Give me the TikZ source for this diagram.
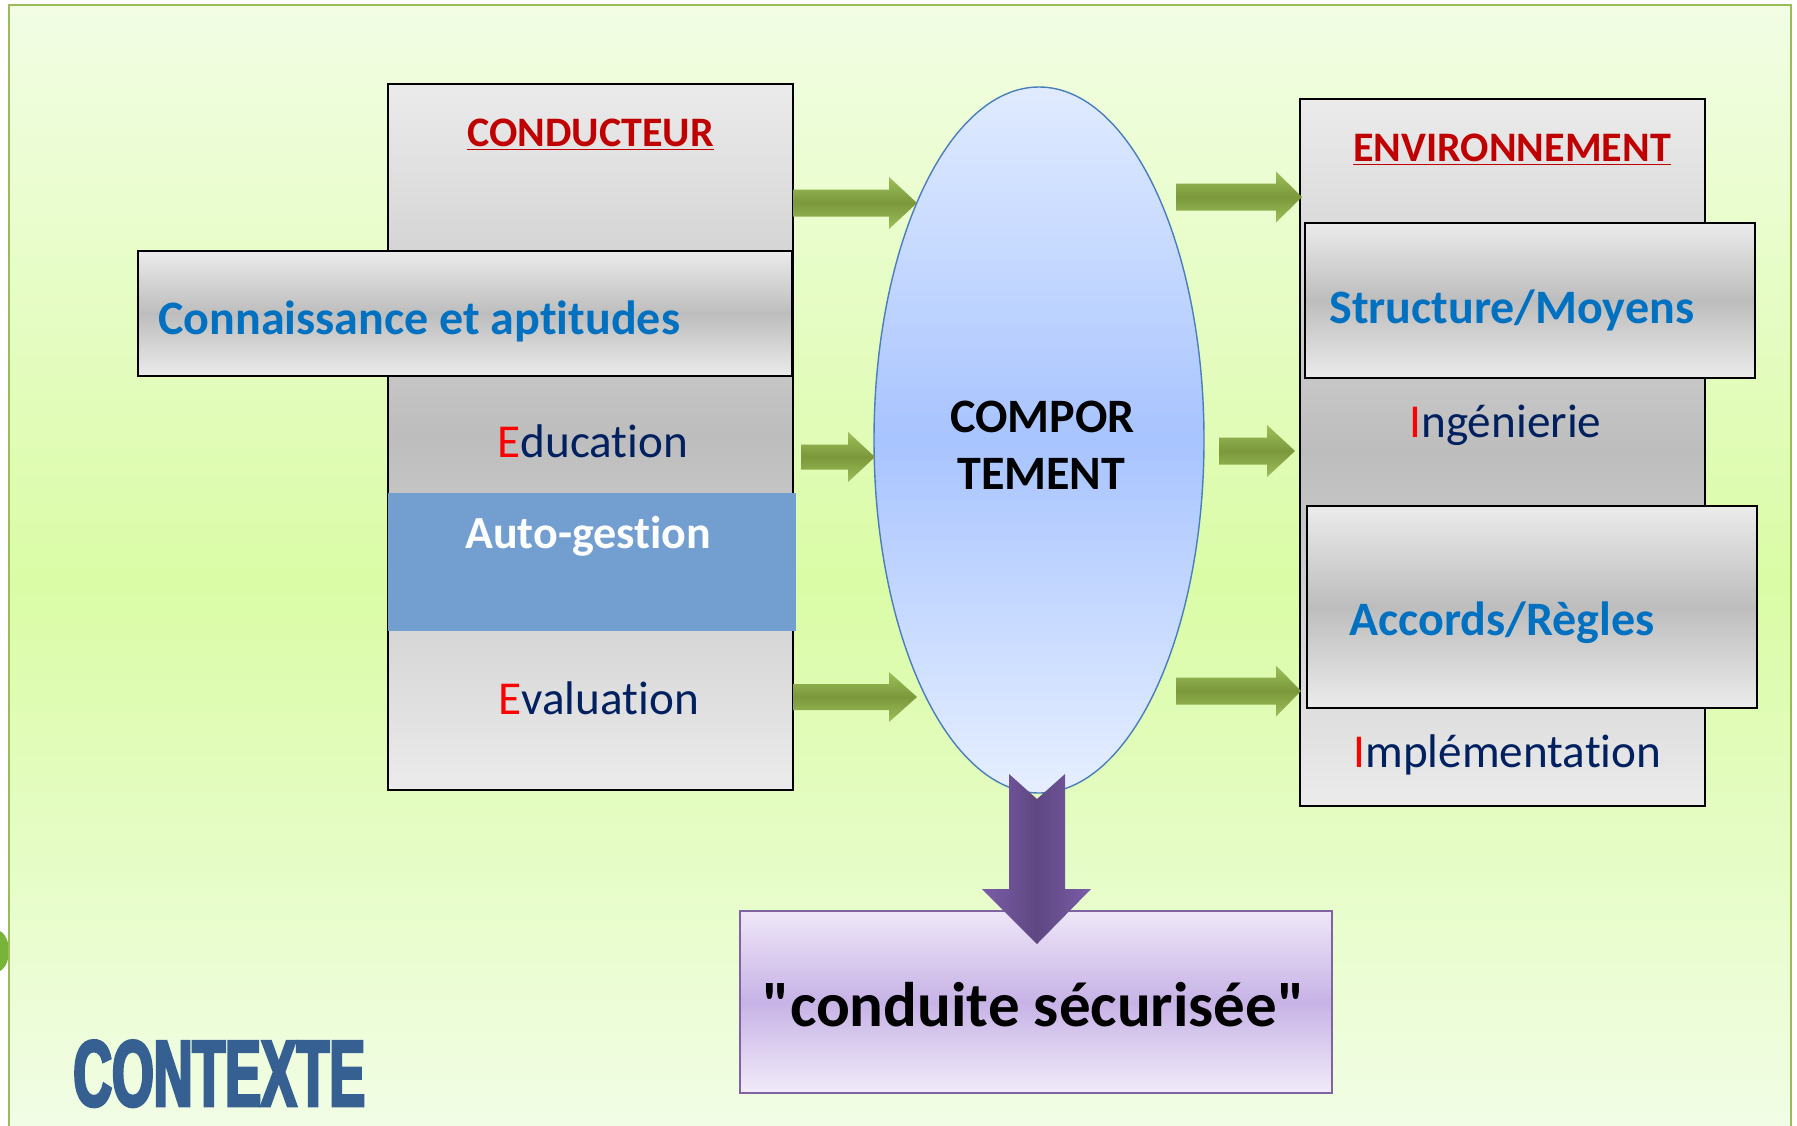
\documentclass[tikz,border=0pt]{standalone}
\usepackage{fontspec}
\usepackage{graphicx}
\setmainfont{Carlito}[Ligatures={TeXOff,NoCommon}]
\newfontfamily\ctxfont[FakeStretch=0.57,FakeBold=3]{Liberation Sans}
\usetikzlibrary{fit,shapes.geometric}
\definecolor{bgtop}{HTML}{F2FDE4}
\definecolor{bgmid}{HTML}{DAFCA6}
\definecolor{bgbot}{HTML}{F3FDE9}
\definecolor{framec}{HTML}{9BBB59}
\definecolor{boxlight}{HTML}{EBEBEB}
\definecolor{boxdark}{HTML}{BDBDBD}
\definecolor{autoblue}{HTML}{739FD0}
\definecolor{elltop}{HTML}{E0EBFF}
\definecolor{ellmid}{HTML}{A8C4FF}
\definecolor{ellbot}{HTML}{E6EFFF}
\definecolor{ellborder}{HTML}{4A7EBB}
\definecolor{gedge}{HTML}{9DBF5A}
\definecolor{gmid}{HTML}{7B983B}
\definecolor{pedge}{HTML}{7B5DA8}
\definecolor{pmid}{HTML}{5E4782}
\definecolor{cdtop}{HTML}{EEE6F8}
\definecolor{cdmid}{HTML}{C7B3E6}
\definecolor{cdbot}{HTML}{F1EBF9}
\definecolor{cdborder}{HTML}{8064A2}
\definecolor{titlered}{HTML}{C00000}
\definecolor{itemblue}{HTML}{0070C0}
\definecolor{navy}{HTML}{002060}
\definecolor{ctxblue}{HTML}{376092}
\definecolor{blobgreen}{HTML}{78B43A}
\newcommand{\garrow}[6]{%
  \shade[top color=gedge,bottom color=gedge,middle color=gmid]
    (#1,#4-#5) -- (#2,#4-#5) -- (#2,#4-#6) -- (#3,#4) -- (#2,#4+#6)
    -- (#2,#4+#5) -- (#1,#4+#5) -- cycle;}
\begin{document}
\begin{tikzpicture}[x=0.5pt,y=-0.5pt,
  graybox/.style={draw=black,line width=1pt,top color=boxlight,bottom color=boxlight,middle color=boxdark,inner sep=0pt},
  lbl/.style={anchor=base west,inner sep=0pt},
  ttl/.style={lbl,font=\fontsize{21}{25}\selectfont\bfseries,text=titlered},
  blu/.style={lbl,font=\fontsize{24}{28}\selectfont\bfseries,text=itemblue},
  nav/.style={lbl,font=\fontsize{23.6}{28}\selectfont,text=navy},
  blk/.style={lbl,font=\fontsize{24}{28}\selectfont\bfseries,text=black}]
\useasboundingbox (0,0) rectangle (1797,1125);
\fill[white] (0,0) rectangle (1797,1125);
\fill[blobgreen] (-4,951) ellipse [x radius=13, y radius=21];
\node[fit={(9,5) (1791,1160)},inner sep=0pt,draw=framec,line width=0.8pt,
  top color=bgtop,bottom color=bgbot,middle color=bgmid] (frame) {};

% conducteur column
\node[graybox,fit={(388,84) (793,790)}] (cond) {};
\node[graybox,fit={(138,251) (792,376)}] (conn) {};
\node[fit={(388,493) (796,631)},inner sep=0pt,fill=autoblue] (auto) {};

% environnement column
\node[graybox,fit={(1300,99) (1705,806)}] (env) {};
\node[graybox,fit={(1305,223) (1755,378)}] (struct) {};
\node[graybox,fit={(1307,506) (1757,708)}] (accords) {};

% behaviour ellipse
\node[ellipse,draw=ellborder,line width=0.7pt,top color=elltop,bottom color=ellbot,middle color=ellmid,
  minimum width=165pt,minimum height=353pt,inner sep=0pt] (beh) at (1039,440) {};

% result box
\node[fit={(740,911) (1332,1093)},inner sep=0pt,draw=cdborder,line width=0.8pt,
  top color=cdtop,bottom color=cdbot,middle color=cdmid] (result) {};

% green arrows
\garrow{793}{889}{917}{203}{13.5}{26}
\garrow{801}{848}{875}{457}{12.5}{25}
\garrow{793}{889}{917}{697}{13}{25}
\garrow{1176}{1276}{1302}{197}{13.5}{25.5}
\garrow{1219}{1267}{1295}{451}{13.5}{26}
\garrow{1176}{1276}{1301}{691}{13.5}{25.5}

% purple arrow
\shade[left color=pedge,right color=pedge,middle color=pmid]
  (1009,774) -- (1037,799) -- (1065,774) -- (1065,889) -- (1091,889)
  -- (1037,944) -- (982,889) -- (1009,889) -- cycle;

% texts
\node[ttl] (tcond) at (467,146) {\underline{CONDUCTEUR}};
\node[blu] (tconn) at (158,334) {Connaissance et aptitudes};
\node[nav] (tedu) at (497,457) {{\color{red}E}ducation};
\node[lbl,font=\fontsize{23}{27}\selectfont\bfseries,text=white] (tauto) at (465,548) {Auto-gestion};
\node[nav] (teval) at (498,714) {{\color{red}E}valuation};
\node[blk] (tcomp1) at (950,432) {COMPOR};
\node[blk] (tcomp2) at (957,489) {TEMENT};
\node[ttl] (tenv) at (1353,161) {\underline{ENVIRONNEMENT}};
\node[blu] (tstruct) at (1329,323) {Structure/Moyens};
\node[nav] (ting) at (1409,437) {{\color{red}I}ngénierie};
\node[blu] (tacc) at (1349,635) {Accords/Règles};
\node[nav] (timpl) at (1353,767) {{\color{red}I}mplémentation};
\node[lbl,font=\fontsize{31.5}{36}\selectfont\bfseries,text=black] (tres) at (762,1026) {"conduite sécurisée"};
\node[lbl,font=\ctxfont\fontsize{47}{50}\selectfont\bfseries,text=ctxblue] (tctx) at (73,1106) {CONTEXTE};
\end{tikzpicture}
\end{document}
